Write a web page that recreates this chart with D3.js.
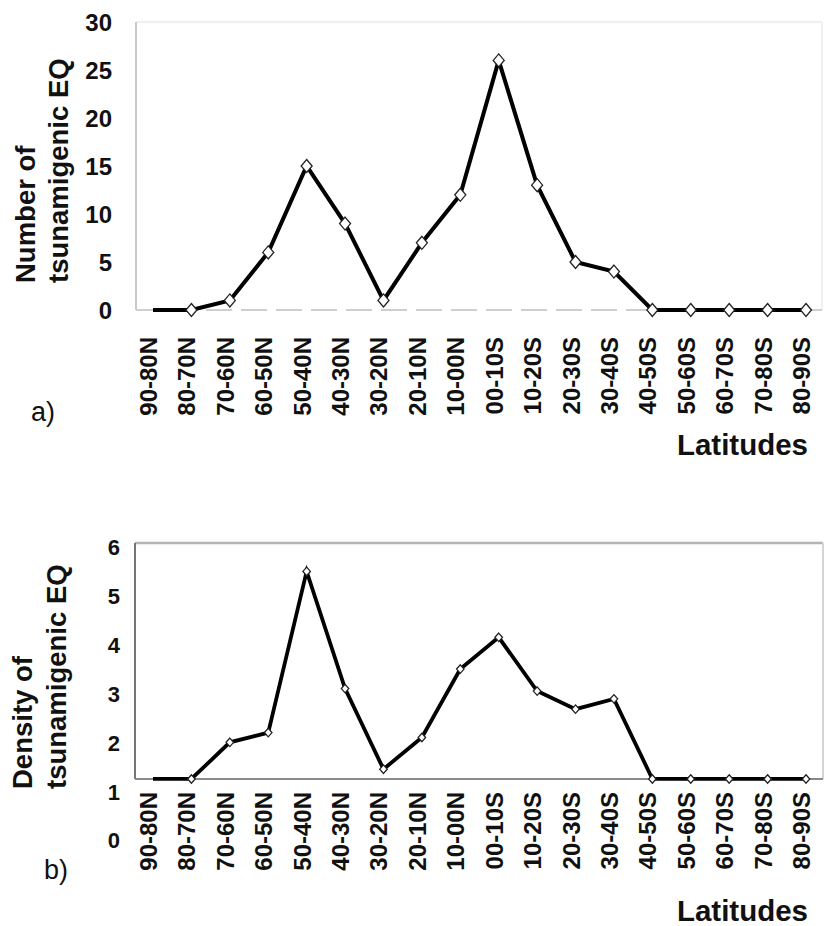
<!DOCTYPE html>
<html>
<head>
<meta charset="utf-8">
<script src="https://cdn.jsdelivr.net/npm/d3@7"></script>
<style>
  html, body { margin: 0; padding: 0; background: #fff; }
  svg { display: block; }
  text { font-family: "Liberation Sans", Arial, sans-serif; fill: #111; }
</style>
</head>
<body>
<svg id="chart" width="825" height="926"></svg>
<script>
// ---- data ----
const categories = ["90-80N","80-70N","70-60N","60-50N","50-40N","40-30N","30-20N","20-10N","10-00N",
                    "00-10S","10-20S","20-30S","30-40S","40-50S","50-60S","60-70S","70-80S","80-90S"];
const countA   = [0, 0, 1, 6, 15, 9, 1, 7, 12, 26, 13, 5, 4, 0, 0, 0, 0, 0];
const densityB = [1.25, 1.25, 2.0, 2.2, 5.5, 3.1, 1.45, 2.1, 3.5, 4.15, 3.05, 2.68, 2.89, 1.25, 1.25, 1.25, 1.25, 1.25];
const ticksA = [0, 5, 10, 15, 20, 25, 30];
const ticksB = [0, 1, 2, 3, 4, 5, 6];
const baseB = 1.25;

const svg = d3.select("#chart");
svg.append("rect").attr("width", 825).attr("height", 926).attr("fill", "#fff");

const x = d3.scalePoint().domain(categories).range([153, 806]);

// custom diamond symbol
function diamond(w, h) {
  return { draw(ctx) { ctx.moveTo(0, -h/2); ctx.lineTo(w/2, 0); ctx.lineTo(0, h/2); ctx.lineTo(-w/2, 0); ctx.closePath(); } };
}

function panel(opts) {
  const g = svg.append("g");
  const y = opts.y;
  const [x0, x1] = [opts.left, opts.right];
  const [yt, yb] = [opts.top, opts.bottom];
  g.append("line").attr("x1", x0).attr("x2", x1).attr("y1", yt).attr("y2", yt)
    .attr("stroke", opts.topColor).attr("stroke-width", 2.5);
  g.append("line").attr("x1", x1).attr("x2", x1).attr("y1", yt).attr("y2", yb)
    .attr("stroke", opts.rightColor).attr("stroke-width", 2);
  g.append("line").attr("x1", x0).attr("x2", x0).attr("y1", yt).attr("y2", yb)
    .attr("stroke", opts.leftColor).attr("stroke-width", 2);
  g.append("line").attr("x1", x0).attr("x2", x1).attr("y1", yb).attr("y2", yb)
    .attr("stroke", opts.bottomColor).attr("stroke-width", 2)
    .attr("stroke-dasharray", opts.dash || null);

  // y tick labels
  const ax = g.append("g").attr("transform", `translate(${opts.tickRight + 3},0)`)
    .call(d3.axisLeft(opts.labelScale).tickValues(opts.ticks).tickSize(0).tickPadding(3).tickFormat(d3.format("d")));
  ax.select(".domain").remove();
  ax.selectAll("text").attr("font-size", opts.tickFont).attr("font-weight", "bold")
    .attr("font-family", "Liberation Sans, Arial, sans-serif").attr("fill", "#111").attr("dy", "0.36em");

  // y title (two lines)
  opts.title.forEach((t, i) => {
    g.append("text").attr("transform", `translate(${opts.titleX[i]},${opts.titleY}) rotate(-90)`)
      .attr("text-anchor", "start").attr("font-size", 27.5).attr("font-weight", "bold").text(t);
  });

  // x labels
  g.selectAll(".xl").data(categories).join("text")
    .attr("transform", d => `translate(${x(d) + 4},${opts.labelTop}) rotate(-90)`)
    .attr("text-anchor", "end").attr("font-size", 24).attr("font-weight", "bold").text(d => d);

  // line
  const line = d3.line().x((d, i) => x(categories[i])).y(d => y(d));
  g.append("path").datum(opts.values).attr("d", line).attr("fill", "none")
    .attr("stroke", "#000").attr("stroke-width", opts.lw).attr("stroke-linejoin", "miter");

  // markers
  const sym = d3.symbol().type(diamond(opts.mw, opts.mh));
  g.selectAll(".m").data(opts.values.slice(1)).join("path")
    .attr("transform", (d, i) => `translate(${x(categories[i + 1])},${y(d)})`)
    .attr("d", sym()).attr("fill", "#fff").attr("stroke", "#222").attr("stroke-width", 1.3);

  g.append("text").attr("x", opts.letterX).attr("y", opts.letterY).attr("font-size", 27).text(opts.letter);
  g.append("text").attr("x", 808).attr("y", opts.latY).attr("text-anchor", "end")
    .attr("font-size", 29.5).attr("font-weight", "bold").text("Latitudes");
}

// ---- panel a ----
const yA = d3.scaleLinear().domain([0, 30]).range([310, 22]);
panel({
  y: yA, labelScale: yA, ticks: ticksA, values: countA,
  left: 136, right: 822, top: 22, bottom: 310,
  topColor: "#f1f1f1", rightColor: "#f0f0f0", leftColor: "#c8c8c8", bottomColor: "#cfcfcf", dash: "26,9",
  tickRight: 112, tickFont: 24,
  title: ["Number of", "tsunamigenic EQ"], titleX: [35, 68], titleY: 283,
  labelTop: 337, lw: 4, mw: 11, mh: 13,
  letter: "a)", letterX: 31, letterY: 421, latY: 455
});

// ---- panel b ----
const yB = d3.scaleLinear().domain([0, 6]).range([840, 547]);
panel({
  y: yB, labelScale: yB, ticks: ticksB, values: densityB,
  left: 135, right: 823, top: 543, bottom: yB(baseB),
  topColor: "#b4b4b4", rightColor: "#d4d4d4", leftColor: "#777", bottomColor: "#8a8a8a", dash: null,
  tickRight: 120, tickFont: 22,
  title: ["Density of", "tsunamigenic EQ"], titleX: [32, 66], titleY: 789,
  labelTop: 792, lw: 3.8, mw: 7.5, mh: 8.5,
  letter: "b)", letterX: 44, letterY: 879, latY: 921
});
</script>
</body>
</html>
